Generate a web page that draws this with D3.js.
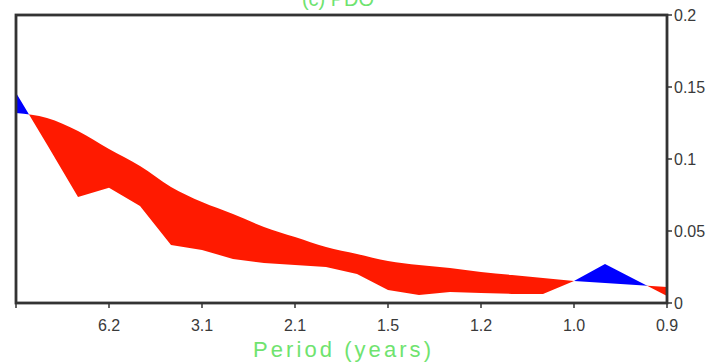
<!DOCTYPE html>
<html>
<head>
<meta charset="utf-8">
<script src="https://cdn.jsdelivr.net/npm/d3@7"></script>
<style>
  body { margin: 0; background: white; }
  svg { display: block; }
</style>
</head>
<body>
<div id="container"></div>
<script>
// frequency index (0 = left edge), 22 points
var freqIndex = d3.range(22);
// jagged spectrum (upper where blue, lower where red)
var spectrum = [0.146, 0.110, 0.0736, 0.080, 0.0674, 0.0403, 0.0368, 0.0306, 0.0278, 0.0264, 0.025,
  0.0201, 0.009, 0.0056, 0.0076, 0.0069, 0.0063, 0.0063, 0.0153, 0.0271, 0.016, 0.0049];
// smooth reference spectrum
var reference = [0.132, 0.1285, 0.1194, 0.1069, 0.0951, 0.0806, 0.0701, 0.0618, 0.0528, 0.0458, 0.0389,
  0.034, 0.0292, 0.0264, 0.0243, 0.0215, 0.0194, 0.0174, 0.0153, 0.0139, 0.0125, 0.0111];
var xTickIndex = [0, 3, 6, 9, 12, 15, 18, 21];
var xTickLabels = ["", "6.2", "3.1", "2.1", "1.5", "1.2", "1.0", "0.9"];
var yTicks = [0, 0.05, 0.1, 0.15, 0.2];
var yTickLabels = ["0", "0.05", "0.1", "0.15", "0.2"];

function drawChart() {
  var width = 728, height = 364;
  var plotLeft = 16, plotRight = 667, plotTop = 15, plotBottom = 303;

  var svg = d3.select("#container").append("svg")
      .attr("width", width)
      .attr("height", height)
      .style("background", "white");

  var x = d3.scaleLinear().domain([0, 21]).range([plotLeft, plotRight]);
  var y = d3.scaleLinear().domain([0, 0.2]).range([plotBottom, plotTop]);

  var data = freqIndex.map(function(d, i) {
    return {i: d, s: spectrum[i], r: reference[i]};
  });

  // clip regions defined by the (smooth) reference line
  var defs = svg.append("defs");
  defs.append("clipPath").attr("id", "aboveRef")
    .append("path")
    .attr("d", d3.area().curve(d3.curveMonotoneX).x(function(d) { return x(d.i); })
      .y0(y(0.2)).y1(function(d) { return y(d.r); })(data));
  defs.append("clipPath").attr("id", "belowRef")
    .append("path")
    .attr("d", d3.area().curve(d3.curveMonotoneX).x(function(d) { return x(d.i); })
      .y0(y(0)).y1(function(d) { return y(d.r); })(data));

  // blue: spectrum above reference
  svg.append("path")
    .attr("clip-path", "url(#aboveRef)")
    .attr("fill", "#0000ff")
    .attr("d", d3.area().x(function(d) { return x(d.i); })
      .y0(y(0)).y1(function(d) { return y(d.s); })(data));

  // red: spectrum below reference
  svg.append("path")
    .attr("clip-path", "url(#belowRef)")
    .attr("fill", "#ff1a00")
    .attr("d", d3.area().x(function(d) { return x(d.i); })
      .y0(y(0.2)).y1(function(d) { return y(d.s); })(data));

  // frame
  svg.append("rect")
    .attr("x", plotLeft).attr("y", plotTop)
    .attr("width", plotRight - plotLeft).attr("height", plotBottom - plotTop)
    .attr("fill", "none")
    .attr("stroke", "#333")
    .attr("stroke-width", 2.8);

  // bottom ticks
  svg.selectAll(".xtick").data(xTickIndex).enter().append("line")
    .attr("x1", function(d) { return x(d); })
    .attr("x2", function(d) { return x(d); })
    .attr("y1", plotBottom).attr("y2", plotBottom + 5)
    .attr("stroke", "#333").attr("stroke-width", 1.5);

  svg.selectAll(".xlab").data(xTickIndex).enter().append("text")
    .attr("x", function(d) { return x(d); })
    .attr("y", plotBottom + 28)
    .attr("text-anchor", "middle")
    .style("font-family", "Liberation Sans, Arial, sans-serif")
    .style("font-size", "16px")
    .attr("fill", "#3a3a3a")
    .text(function(d, i) { return xTickLabels[i]; });

  // right ticks
  svg.selectAll(".ytick").data(yTicks).enter().append("line")
    .attr("x1", plotRight).attr("x2", plotRight + 5)
    .attr("y1", function(d) { return y(d); })
    .attr("y2", function(d) { return y(d); })
    .attr("stroke", "#333").attr("stroke-width", 1.5);

  svg.selectAll(".ylab").data(yTicks).enter().append("text")
    .attr("x", plotRight + 7)
    .attr("y", function(d) { return y(d) + 6; })
    .style("font-family", "Liberation Sans, Arial, sans-serif")
    .style("font-size", "16px")
    .attr("fill", "#3a3a3a")
    .text(function(d, i) { return yTickLabels[i]; });

  // title (cut off at top, as in the source figure)
  svg.append("text")
    .attr("x", 338).attr("y", 6)
    .attr("text-anchor", "middle")
    .style("font-family", "Liberation Sans, Arial, sans-serif")
    .style("font-size", "20px")
    .attr("fill", "#6fe36f")
    .text("(c) PDO");

  // x axis title
  svg.append("text")
    .attr("x", 342).attr("y", 357)
    .attr("text-anchor", "middle")
    .attr("textLength", 178)
    .attr("lengthAdjust", "spacing")
    .style("font-family", "Liberation Sans, Arial, sans-serif")
    .style("font-size", "22px")
    .attr("fill", "#6fe36f")
    .text("Period (years)");
}

drawChart();
</script>
</body>
</html>
